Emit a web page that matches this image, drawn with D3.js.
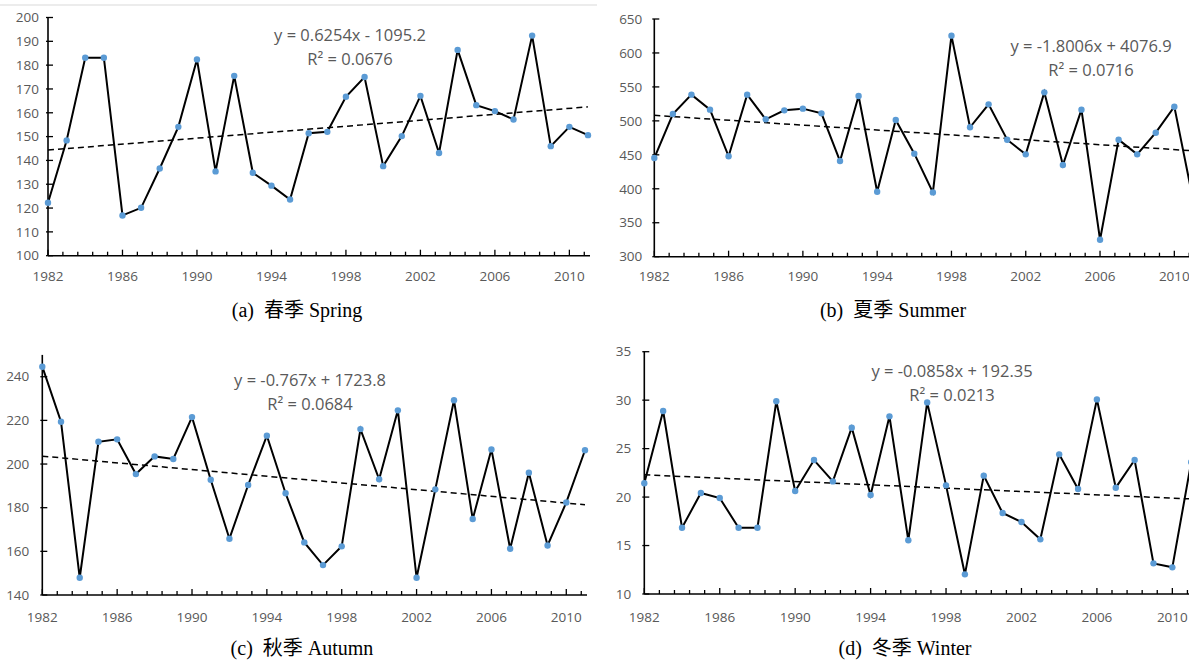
<!DOCTYPE html>
<html>
<head>
<meta charset="utf-8">
<script src="https://cdn.jsdelivr.net/npm/d3@7"></script>
<style>
  html, body { margin: 0; padding: 0; background: #fff; }
  svg { display: block; }
</style>
</head>
<body>
<svg id="chart" width="1189" height="660"></svg>
<script>
// ---------- DATA ----------
const years = d3.range(1982, 2012);
const xTickYears = [1982, 1986, 1990, 1994, 1998, 2002, 2006, 2010];

const springValues = [122.2, 148.4, 183.1, 183.1, 116.9, 120.1, 136.6, 154.1, 182.4, 135.4,
  175.5, 134.8, 129.4, 123.6, 151.4, 152.0, 166.7, 175.0, 137.6, 150.2,
  167.1, 143.1, 186.4, 163.2, 160.7, 157.2, 192.4, 146.0, 154.1, 150.6];
const summerValues = [445.3, 510.1, 538.6, 516.5, 447.8, 538.6, 502.3, 515.5, 518.0, 511.1,
  440.9, 536.6, 395.7, 501.3, 451.7, 394.7, 625.5, 490.5, 524.3, 472.3,
  450.7, 542.0, 435.0, 516.5, 325.0, 472.3, 450.7, 482.6, 520.9, 385.0];
const autumnValues = [244.6, 219.4, 147.9, 210.2, 211.3, 195.4, 203.5, 202.3, 221.5, 192.8,
  165.8, 190.4, 213.0, 186.6, 164.1, 153.7, 162.3, 216.0, 193.0, 224.6,
  147.9, 188.4, 229.2, 174.8, 206.7, 161.2, 196.0, 162.7, 182.4, 206.3];
const winterValues = [21.42, 28.88, 16.84, 20.42, 19.90, 16.84, 16.84, 29.88, 20.63, 23.82,
  21.62, 27.16, 20.21, 28.33, 15.54, 29.77, 21.21, 12.03, 22.21, 18.36,
  17.43, 15.64, 24.41, 20.83, 30.08, 20.97, 23.82, 13.16, 12.75, 23.6];

const springTicks = [100, 110, 120, 130, 140, 150, 160, 170, 180, 190, 200];
const summerTicks = [300, 350, 400, 450, 500, 550, 600, 650];
const autumnTicks = [140, 160, 180, 200, 220, 240];
const winterTicks = [10, 15, 20, 25, 30, 35];

// trendline coefficients [slope, intercept]
const springTrend = [0.6254, -1095.2];
const summerTrend = [-1.8006, 4076.9];
const autumnTrend = [-0.767, 1723.8];
const winterTrend = [-0.0858, 192.35];

const springEq = ["y = 0.6254x - 1095.2", "R\u00B2 = 0.0676"];
const summerEq = ["y = -1.8006x + 4076.9", "R\u00B2 = 0.0716"];
const autumnEq = ["y = -0.767x + 1723.8", "R\u00B2 = 0.0684"];
const winterEq = ["y = -0.0858x + 192.35", "R\u00B2 = 0.0213"];

const captions = ["(a)  春季 Spring", "(b)  夏季 Summer", "(c)  秋季 Autumn", "(d)  冬季 Winter"];

// ---------- LAYOUT ----------
const panels = [
  { values: springValues, ticks: springTicks, yDomain: [100, 200], trend: springTrend, eq: springEq, caption: captions[0],
    x0: 48, x1: 588, yTop: 17.5, yBot: 255.7, axisEnd: 590, labelGap: 9, xLabelY: 281, eqX: 350, eqY: 41, capX: 297, capY: 317 },
  { values: summerValues, ticks: summerTicks, yDomain: [300, 650], trend: summerTrend, eq: summerEq, caption: captions[1],
    x0: 654.3, x1: 1192.9, yTop: 19, yBot: 256.7, axisEnd: 1195, labelGap: 12, xLabelY: 281, eqX: 1091, eqY: 52, capX: 893, capY: 317 },
  { values: autumnValues, ticks: autumnTicks, yDomain: [140, 250], trend: autumnTrend, eq: autumnEq, caption: captions[2],
    x0: 42.3, x1: 585, yTop: 354.9, yBot: 595, axisEnd: 587, labelGap: 13, xLabelY: 622, eqX: 310, eqY: 386, capX: 302, capY: 655 },
  { values: winterValues, ticks: winterTicks, yDomain: [10, 35], trend: winterTrend, eq: winterEq, caption: captions[3],
    x0: 644.3, x1: 1191.2, yTop: 351.7, yBot: 594, axisEnd: 1195, labelGap: 13, xLabelY: 622, eqX: 952, eqY: 377, capX: 905, capY: 655 }
];

const svg = d3.select("#chart");
const labelFont = "'Open Sans', 'Noto Sans', sans-serif";
const gray = "#595959";

// faint chart border for panel (a)
svg.append("line").attr("x1", 0).attr("x2", 597).attr("y1", 5).attr("y2", 5)
  .attr("stroke", "#d9d9d9").attr("stroke-width", 1);

panels.forEach(p => {
  const x = d3.scaleLinear().domain([1982, 2011]).range([p.x0, p.x1]);
  const y = d3.scaleLinear().domain(p.yDomain).range([p.yBot, p.yTop]);
  const g = svg.append("g");

  // y axis
  g.append("line").attr("x1", p.x0).attr("x2", p.x0).attr("y1", p.yTop).attr("y2", p.yBot)
    .attr("stroke", "#000").attr("stroke-width", 1.6);
  g.selectAll(".yt").data(p.ticks).enter().append("line")
    .attr("x1", p.x0 - 2).attr("x2", p.x0 + 5)
    .attr("y1", d => y(d)).attr("y2", d => y(d))
    .attr("stroke", "#000").attr("stroke-width", 1.3);
  g.selectAll(".yl").data(p.ticks).enter().append("text")
    .attr("x", p.x0 - p.labelGap).attr("y", d => y(d))
    .attr("dy", "0.35em").attr("text-anchor", "end")
    .attr("font-family", labelFont).attr("font-size", 13.5).attr("fill", gray)
    .text(d => d);

  // x axis
  g.append("line").attr("x1", p.x0).attr("x2", p.axisEnd).attr("y1", p.yBot).attr("y2", p.yBot)
    .attr("stroke", "#000").attr("stroke-width", 1.6);
  const minor = d3.range(0, 37).map(i => 1982 + i * 0.8).filter(v => x(v) <= p.axisEnd + 0.5);
  g.selectAll(".xm").data(minor).enter().append("line")
    .attr("x1", d => x(d)).attr("x2", d => x(d))
    .attr("y1", p.yBot).attr("y2", (d, i) => (i % 5 === 0) ? p.yBot - 6 : p.yBot - 4)
    .attr("stroke", "#000").attr("stroke-width", 1.3);
  g.selectAll(".xl").data(xTickYears).enter().append("text")
    .attr("x", d => x(d)).attr("y", p.xLabelY)
    .attr("text-anchor", "middle")
    .attr("font-family", labelFont).attr("font-size", 13.5).attr("fill", gray)
    .text(d => d);

  // trendline
  const t = p.trend;
  g.append("line")
    .attr("x1", x(1982)).attr("y1", y(t[0] * 1982 + t[1]))
    .attr("x2", x(2011)).attr("y2", y(t[0] * 2011 + t[1]))
    .attr("stroke", "#000").attr("stroke-width", 1.5).attr("stroke-dasharray", "6,4");

  // data line
  const line = d3.line().x((d, i) => x(years[i])).y(d => y(d));
  g.append("path").datum(p.values).attr("d", line)
    .attr("fill", "none").attr("stroke", "#000").attr("stroke-width", 2)
    .attr("stroke-linejoin", "miter");

  // markers
  g.selectAll(".pt").data(p.values).enter().append("circle")
    .attr("cx", (d, i) => x(years[i])).attr("cy", d => y(d)).attr("r", 3.2)
    .attr("fill", "#5b9bd5");

  // equation
  g.selectAll(".eq").data(p.eq).enter().append("text")
    .attr("x", p.eqX).attr("y", (d, i) => p.eqY + i * 23.5)
    .attr("text-anchor", "middle")
    .attr("font-family", labelFont).attr("font-size", 16.5).attr("fill", gray)
    .text(d => d);

  // caption
  svg.append("text").attr("x", p.capX).attr("y", p.capY)
    .attr("text-anchor", "middle")
    .attr("font-family", "'Liberation Serif', 'Times New Roman', 'Noto Sans CJK SC', serif")
    .attr("font-size", 20).attr("fill", "#000")
    .style("white-space", "pre")
    .text(p.caption);
});
</script>
</body>
</html>
